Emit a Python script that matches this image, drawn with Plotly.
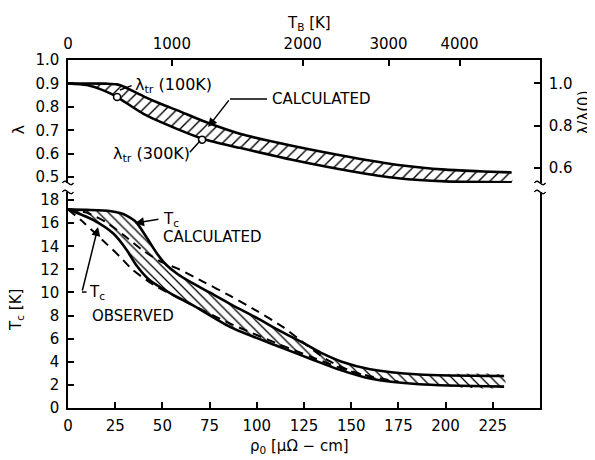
import plotly.graph_objects as go

# ---------------- data ----------------
# upper panel: lambda band (vs rho_0)
rho_lam_up = [0, 10, 20, 26, 30, 35, 40, 50, 58, 73, 91, 118, 150, 175, 200, 220, 235]
lam_up = [0.900, 0.900, 0.899, 0.896, 0.885, 0.865, 0.845, 0.810, 0.785, 0.735, 0.685, 0.635, 0.585, 0.552, 0.532, 0.524, 0.520]
rho_lam_lo = [0, 10, 20, 26, 40, 58, 72, 91, 118, 150, 175, 200, 235]
lam_lo = [0.900, 0.893, 0.866, 0.842, 0.770, 0.705, 0.662, 0.625, 0.575, 0.525, 0.495, 0.482, 0.478]
rho_tr = [26, 71]
lam_tr = [0.842, 0.660]

# lower panel: Tc calculated band
rho_tc_up = [0, 10, 22, 28, 31, 36, 41.5, 47, 52, 58, 65, 75, 86, 100, 112, 125, 135, 145, 160, 186, 231]
tc_up = [17.2, 17.15, 17.05, 16.85, 16.65, 16.1, 14.8, 13.4, 12.4, 11.6, 10.9, 10.0, 9.0, 7.8, 6.7, 5.6, 4.7, 4.0, 3.35, 2.9, 2.77]
rho_tc_lo = [0, 13, 24, 31, 36, 43, 54, 66, 86, 112, 130, 144, 160, 186, 231]
tc_lo = [17.2, 16.3, 15.1, 13.7, 12.4, 11.1, 9.95, 8.9, 7.0, 5.3, 4.16, 3.3, 2.55, 2.05, 1.85]

# lower panel: Tc observed (dashed)
rho_obs1 = [0, 8, 18.5, 27.5, 34, 45, 60, 86, 112, 130, 150, 175]
tc_obs1 = [17.2, 16.1, 14.5, 13.1, 12.0, 10.7, 9.4, 7.3, 5.5, 4.35, 3.15, 2.25]
rho_obs2 = [0, 10, 20, 30, 40, 50, 59, 72, 86, 100, 114, 122, 137, 150, 165, 175]
tc_obs2 = [17.2, 16.9, 16.1, 14.9, 13.6, 12.6, 12.0, 10.9, 9.7, 8.4, 7.0, 6.0, 4.2, 3.2, 2.45, 2.3]

# axis ticks
rho_ticks = [0, 25, 50, 75, 100, 125, 150, 175, 200, 225]
tb_tick_pos = [0, 55, 124.3, 169.8, 207.4]
tb_tick_text = ["0", "1000", "2000", "3000", "4000"]
tc_ticks = [0, 2, 4, 6, 8, 10, 12, 14, 16, 18]
lam_ticks = [0.5, 0.6, 0.7, 0.8, 0.9, 1.0]
lam_tick_text = ["0.5", "0.6", "0.7", "0.8", "0.9", "1.0"]
ratio_ticks = [0.6, 0.8, 1.0]
ratio_tick_text = ["0.6", "0.8", "1.0"]
lam0 = 0.9

FONT = "DejaVu Sans, Verdana, sans-serif"
BLACK = "black"
SM = 0.7

fig = go.Figure()

# ---- upper panel (x2 / y2, right scale y3) ----
fig.add_trace(go.Scatter(
    x=rho_lam_up + rho_lam_lo[::-1], y=lam_up + lam_lo[::-1],
    xaxis="x2", yaxis="y2", mode="lines", fill="toself",
    line=dict(width=0, shape="spline", smoothing=SM),
    fillcolor="white",
    fillpattern=dict(shape="/", fgcolor=BLACK, fgopacity=1, bgcolor="white",
                     size=8, solidity=0.17),
    hoverinfo="skip", showlegend=False))
for xs, ys in [(rho_lam_up, lam_up), (rho_lam_lo, lam_lo)]:
    fig.add_trace(go.Scatter(x=xs, y=ys, xaxis="x2", yaxis="y2", mode="lines",
                             line=dict(color=BLACK, width=2.6, shape="spline", smoothing=SM),
                             showlegend=False))
# lambda_tr points, drawn against the right-hand lambda/lambda(0) scale
fig.add_trace(go.Scatter(x=rho_tr, y=[v / lam0 for v in lam_tr], xaxis="x2", yaxis="y3",
                         mode="markers",
                         marker=dict(symbol="circle", size=7, color="white",
                                     line=dict(color=BLACK, width=1.5)),
                         showlegend=False))

# ---- lower panel (x / y) ----
fig.add_trace(go.Scatter(
    x=rho_tc_up + rho_tc_lo[::-1], y=tc_up + tc_lo[::-1],
    xaxis="x", yaxis="y", mode="lines", fill="toself",
    line=dict(width=0, shape="spline", smoothing=SM),
    fillcolor="white",
    fillpattern=dict(shape="\\", fgcolor=BLACK, fgopacity=1, bgcolor="white",
                     size=7, solidity=0.18),
    hoverinfo="skip", showlegend=False))
for xs, ys in [(rho_tc_up, tc_up), (rho_tc_lo, tc_lo)]:
    fig.add_trace(go.Scatter(x=xs, y=ys, xaxis="x", yaxis="y", mode="lines",
                             line=dict(color=BLACK, width=2.6, shape="spline", smoothing=SM),
                             showlegend=False))
for xs, ys in [(rho_obs1, tc_obs1), (rho_obs2, tc_obs2)]:
    fig.add_trace(go.Scatter(x=xs, y=ys, xaxis="x", yaxis="y", mode="lines",
                             line=dict(color=BLACK, width=2, dash="9px,6px", shape="spline", smoothing=SM),
                             showlegend=False))

tickfont = dict(family=FONT, size=15, color=BLACK)
common = dict(showline=True, linecolor=BLACK, linewidth=1.5, ticks="inside",
              ticklen=6, tickwidth=1.5, tickcolor=BLACK, showgrid=False,
              zeroline=False, tickfont=tickfont)

UP_DOM = [0.6466, 1.0]
LO_DOM = [0.0, 0.6207]
fig.update_layout(
    width=595, height=460, autosize=False,
    margin=dict(l=60, r=63, t=52, b=60),
    paper_bgcolor="white", plot_bgcolor="white",
    font=dict(family=FONT, color=BLACK),
    xaxis=dict(common, range=[0, 250], domain=[0, 1], anchor="y",
               tickmode="array", tickvals=rho_ticks, ticklabelstandoff=3),
    yaxis=dict(common, range=[0, 18.7], domain=LO_DOM, anchor="x",
               tickmode="array", tickvals=tc_ticks, ticklabelstandoff=4,
               mirror=True),
    xaxis2=dict(common, range=[0, 250], domain=[0, 1], side="top", anchor="y2",
                tickmode="array", tickvals=tb_tick_pos, ticktext=tb_tick_text,
                ticklabelstandoff=3),
    yaxis2=dict(common, range=[0.475, 1.0], domain=UP_DOM, anchor="x2",
                tickmode="array", tickvals=lam_ticks, ticktext=lam_tick_text,
                ticklabelstandoff=4),
    yaxis3=dict(common, range=[0.475 / lam0, 1.0 / lam0], overlaying="y2", side="right",
                anchor="x2", tickmode="array", tickvals=ratio_ticks,
                ticktext=ratio_tick_text, ticklabelstandoff=4),
)

# leader line segments
fig.add_shape(type="line", xref="x2", yref="y2", x0=85.8, y0=0.834, x1=105.4, y1=0.834,
              line=dict(color=BLACK, width=1.5))
fig.add_shape(type="line", xref="x", yref="y", x0=7.4, y0=10.04, x1=9.8, y1=10.04,
              line=dict(color=BLACK, width=1.5))

# axis-break squiggles at both ends of the gap, left and right
PW, PH = 472.0, 348.0
def squiggle(xp, yp):
    dx, dy = 5.5 / PW, 3.0 / PH
    path = (f"M {xp-dx} {yp} C {xp-dx/3} {yp+2*dy} {xp+dx/3} {yp-2*dy} {xp+dx} {yp}")
    fig.add_shape(type="path", xref="paper", yref="paper", path=path,
                  line=dict(color=BLACK, width=1.4))
for xp in (0, 1):
    squiggle(xp, UP_DOM[0])
    squiggle(xp, LO_DOM[1])

ann = []
def text(x, y, s, xref="x", yref="y", size=15, xanchor="left", **kw):
    ann.append(dict(x=x, y=y, xref=xref, yref=yref, text=s, showarrow=False,
                    xanchor=xanchor, yanchor="middle",
                    font=dict(family=FONT, size=size, color=BLACK), **kw))

def arrow(x, y, ax, ay, xref, yref, head=2):
    ann.append(dict(x=x, y=y, ax=ax, ay=ay, xref=xref, yref=yref, axref=xref, ayref=yref,
                    text="", showarrow=True, arrowhead=head, arrowsize=1.2,
                    arrowwidth=1.5, arrowcolor=BLACK, standoff=0))

# upper annotations
text(107, 0.834, "CALCULATED", "x2", "y2")
arrow(74.2, 0.714, 85.8, 0.834, "x2", "y2")
text(34.5, 0.893, "λ<sub>tr</sub> (100K)", "x2", "y2", size=16)
arrow(27.5, 0.872, 34.5, 0.893, "x2", "y2", head=0)
text(23.0, 0.595, "λ<sub>tr</sub> (300K)", "x2", "y2", size=16)
arrow(70, 0.655, 63.8, 0.600, "x2", "y2", head=0)

# lower annotations
text(49, 16.3, "T<sub>c</sub>")
arrow(35.5, 16.0, 48.7, 16.36, "x", "y")
text(49.5, 14.8, "CALCULATED")
text(9.8, 10.0, "T<sub>c</sub>")
arrow(15.9, 15.67, 7.4, 10.04, "x", "y")
text(11.5, 7.96, "OBSERVED")

# axis titles
text(-0.104, 0.80, "λ", "paper", "paper", size=16, xanchor="center", textangle=-90)
text(-0.108, 0.282, "T<sub>c</sub> [K]", "paper", "paper", size=15, xanchor="center", textangle=-90)
text(1.094, 0.85, "λ/λ(0)", "paper", "paper", size=15, xanchor="center", textangle=-90)
text(0.4915, -0.112, "ρ<sub>0</sub> [μΩ − cm]", "paper", "paper", size=15, xanchor="center")
text(0.51, 1.106, "T<sub>B</sub> [K]", "paper", "paper", size=15, xanchor="center")

fig.update_layout(annotations=ann)
fig.write_html("out.html")
